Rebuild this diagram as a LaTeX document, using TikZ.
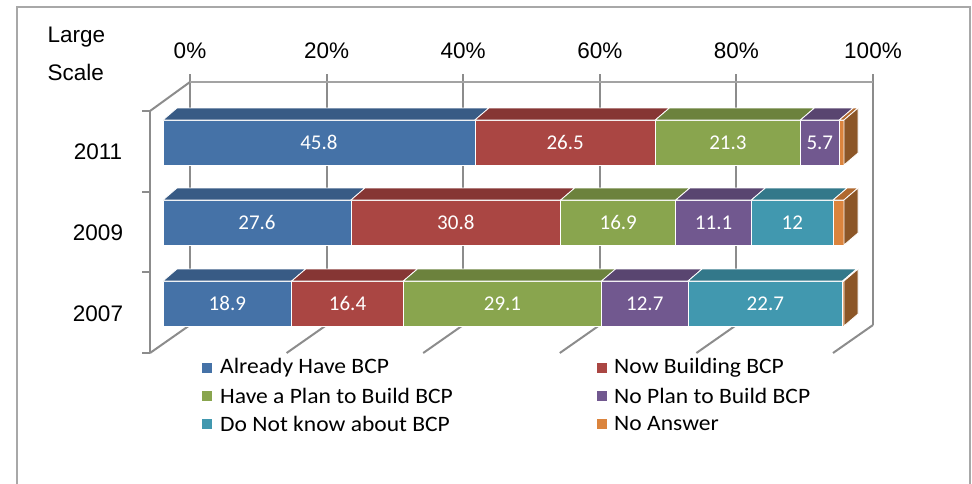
\documentclass[tikz,border=0pt]{standalone}
\usepackage{fontspec}
\setmainfont{Liberation Sans}
\newfontfamily\calib{Carlito}

\definecolor{blu}{HTML}{4572A7}
\definecolor{blutop}{HTML}{385B85}
\definecolor{red}{HTML}{AA4643}
\definecolor{redtop}{HTML}{863634}
\definecolor{grn}{HTML}{89A54E}
\definecolor{grntop}{HTML}{6C823D}
\definecolor{pur}{HTML}{71588F}
\definecolor{purtop}{HTML}{594570}
\definecolor{teal}{HTML}{4198AF}
\definecolor{tealtop}{HTML}{33788A}
\definecolor{org}{HTML}{DB843D}
\definecolor{orgtop}{HTML}{B0692F}
\definecolor{orgside}{HTML}{8C5627}
\definecolor{gridgray}{HTML}{8C8C8C}
\definecolor{framegray}{HTML}{A8A8A8}

% one stacked piece: top y, from %, to %, colour, label, node name
\newcommand{\barseg}[6]{%
  \pgfmathsetmacro\xa{\xo+\pw*#2}
  \pgfmathsetmacro\xb{\xo+\pw*#3}
  \filldraw[fill=#4,draw=white,line width=0.8pt] (\xa,#1) rectangle (\xb,#1+45);
  \filldraw[fill=#4top,draw=white,line width=0.8pt] (\xa,#1) -- (\xa+14,#1-12) -- (\xb+14,#1-12) -- (\xb,#1) -- cycle;
  \node[seg label] (#6) at ({(\xa+\xb)/2},#1+22.5) {#5};
}
% last piece with the right side: top y, from %
\newcommand{\barend}[2]{%
  \pgfmathsetmacro\xa{\xo+\pw*#2}
  \pgfmathsetmacro\xb{\xo+\pw*100}
  \filldraw[fill=org,draw=white,line width=0.8pt] (\xa,#1) rectangle (\xb,#1+45);
  \filldraw[fill=orgtop,draw=white,line width=0.8pt] (\xa,#1) -- (\xa+14,#1-12) -- (\xb+14,#1-12) -- (\xb,#1) -- cycle;
  \filldraw[fill=orgside,draw=white,line width=0.8pt] (\xb,#1) -- (\xb+14,#1-12) -- (\xb+14,#1+33) -- (\xb,#1+45) -- cycle;
}

\begin{document}
\begin{tikzpicture}[x=1pt,y=-1pt,
        grid line/.style={draw=gridgray,line width=2pt},
        axis label/.style={font=\fontsize{22.5}{27}\selectfont},
        seg label/.style={text=white,font=\calib\fontsize{21}{25}\selectfont},
        legend key/.style={minimum size=10pt,inner sep=0pt},
        legend text/.style={anchor=west,inner sep=0pt,xscale=1.07,transform shape,font=\calib\fontsize{22}{26}\selectfont},
        ]

    \def\xo{163}
    \def\pw{6.81}
    \def\gw{136.6}

    \useasboundingbox (0,0) rectangle (972,483);
    \draw[framegray,line width=1.5pt] (17,490) -- (17,7) -- (970,7) -- (970,490);

    % walls and floor
    \foreach \k in {0,...,5} {
        \draw[grid line] (190+\gw*\k,74) -- (190+\gw*\k,325);
        \draw[grid line] (190+\gw*\k,325) -- ++(-40,28);
    }
    \draw[grid line] (150,111) -- (190,82);
    \draw[gridgray!80,line width=1.5pt] (190,82) -- (873,82);
    \draw[grid line] (150,111) -- (150,353);
    \foreach \t in {111,192,272,353}
        \draw[grid line] (142,\t) -- (150,\t);

    % axis texts
    \node[axis label] (p0) at (190,51) {0\%};
    \node[axis label] (p1) at (190+\gw,51) {20\%};
    \node[axis label] (p2) at (190+2*\gw,51) {40\%};
    \node[axis label] (p3) at (190+3*\gw,51) {60\%};
    \node[axis label] (p4) at (190+4*\gw,51) {80\%};
    \node[axis label] (p5) at (190+5*\gw,51) {100\%};
    \node[axis label,anchor=west] (large) at (44,37) {Large};
    \node[axis label,anchor=west] (scale) at (44,72) {Scale};
    \node[axis label] (y2011) at (98,152) {2011};
    \node[axis label] (y2009) at (98,233) {2009};
    \node[axis label] (y2007) at (98,314) {2007};

    % 2011
    \barseg{120}{0}{45.8}{blu}{45.8}{a1}
    \barseg{120}{45.8}{72.3}{red}{26.5}{a2}
    \barseg{120}{72.3}{93.6}{grn}{21.3}{a3}
    \barseg{120}{93.6}{99.3}{pur}{5.7}{a4}
    \barend{120}{99.3}

    % 2009
    \barseg{200}{0}{27.6}{blu}{27.6}{b1}
    \barseg{200}{27.6}{58.4}{red}{30.8}{b2}
    \barseg{200}{58.4}{75.3}{grn}{16.9}{b3}
    \barseg{200}{75.3}{86.4}{pur}{11.1}{b4}
    \barseg{200}{86.4}{98.4}{teal}{12}{b5}
    \barend{200}{98.4}

    % 2007
    \barseg{281}{0}{18.9}{blu}{18.9}{c1}
    \barseg{281}{18.9}{35.3}{red}{16.4}{c2}
    \barseg{281}{35.3}{64.4}{grn}{29.1}{c3}
    \barseg{281}{64.4}{77.1}{pur}{12.7}{c4}
    \barseg{281}{77.1}{99.8}{teal}{22.7}{c5}
    \barend{281}{99.8}

    % legend
    \node[legend key,fill=blu] (k1) at (207,368) {};
    \node[legend text] (t1) at (220,368) {Already Have BCP};
    \node[legend key,fill=red] (k2) at (602,368) {};
    \node[legend text] (t2) at (614,368) {Now Building BCP};
    \node[legend key,fill=grn] (k3) at (207,396) {};
    \node[legend text] (t3) at (220,396) {Have a Plan to Build BCP};
    \node[legend key,fill=pur] (k4) at (602,396) {};
    \node[legend text] (t4) at (614,396) {No Plan to Build BCP};
    \node[legend key,fill=teal] (k5) at (207,424) {};
    \node[legend text] (t5) at (220,424) {Do Not know about BCP};
    \node[legend key,fill=org] (k6) at (602,424) {};
    \node[legend text] (t6) at (614,424) {No Answer};
\end{tikzpicture}
\end{document}
